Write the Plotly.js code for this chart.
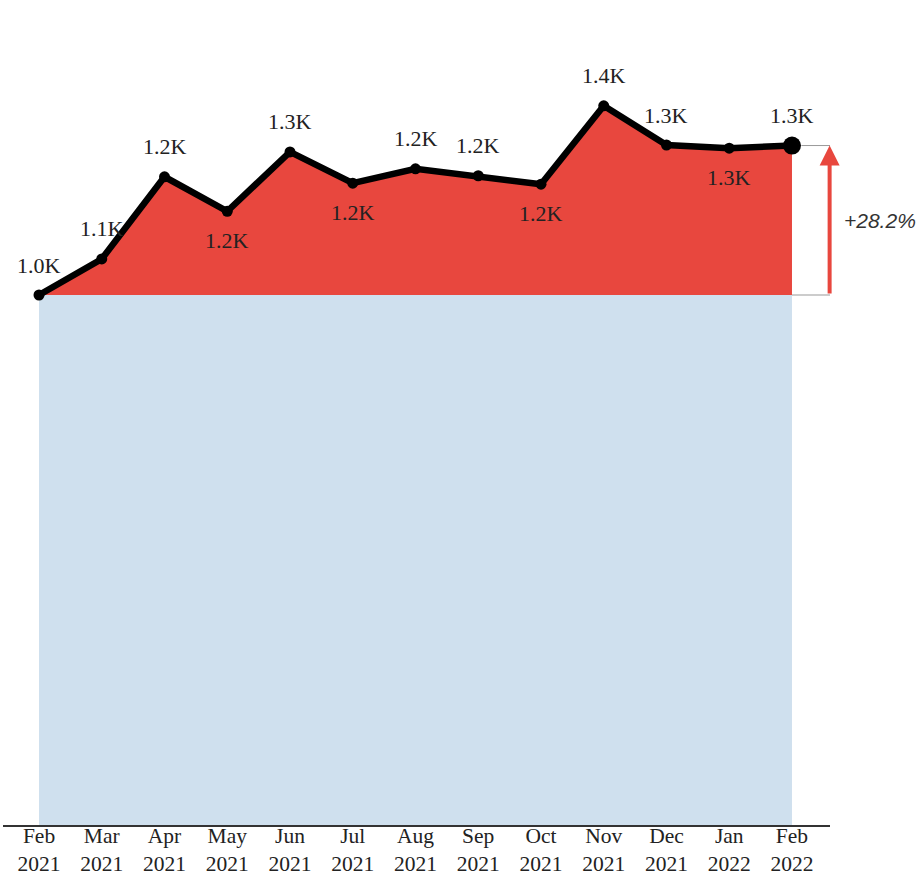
<!DOCTYPE html>
<html>
<head>
<meta charset="utf-8">
<script src="https://cdn.plot.ly/plotly-3.0.1.min.js"></script>
<style>html,body{margin:0;padding:0;background:#fff}#chart{width:921px;height:878px}</style>
</head>
<body>
<div id="chart"></div>
<script>
const months = ['Feb<br>2021','Mar<br>2021','Apr<br>2021','May<br>2021','Jun<br>2021','Jul<br>2021','Aug<br>2021','Sep<br>2021','Oct<br>2021','Nov<br>2021','Dec<br>2021','Jan<br>2022','Feb<br>2022'];
const values = [1000, 1068, 1223, 1158, 1270, 1211, 1238, 1225, 1209, 1357, 1283, 1277, 1282];
const labelSide = ['above','above','above','below','above','below','above','above','below','above','above','below','above'];

const base = values[0];
const last = values[values.length - 1];
const growth = ((last - base) / base * 100).toFixed(1);
const idx = months.map((_, i) => i);

const serif = 'Liberation Serif, Times New Roman, serif';

const traces = [
  {
    x: idx, y: months.map(() => base), type: 'scatter', mode: 'lines',
    fill: 'tozeroy', fillcolor: '#cfe0ee', line: {width: 0, color: '#cfe0ee'},
    hoverinfo: 'skip', showlegend: false
  },
  {
    x: idx, y: values, type: 'scatter', mode: 'lines+markers',
    fill: 'tonexty', fillcolor: '#e8473e',
    line: {color: '#000', width: 6.5},
    marker: {color: '#000', opacity: 1, size: values.map((_, i) => i === values.length - 1 ? 18 : 11), line: {width: 0, color: '#000'}},
    cliponaxis: false, showlegend: false
  }
];

const annotations = values.map((v, i) => ({
  x: i, y: v, xref: 'x', yref: 'y',
  text: (v / 1000).toFixed(1) + 'K', showarrow: false,
  yshift: labelSide[i] === 'above' ? 30 : -29,
  font: {family: serif, size: 22, color: '#222'}
}));

annotations.push({
  x: 12.6, y: last, ax: 12.6, ay: base, xref: 'x', yref: 'y', axref: 'x', ayref: 'y',
  text: '', showarrow: true, arrowhead: 2, arrowsize: 1, arrowwidth: 4, arrowcolor: '#e8473e',
  standoff: 0, startstandoff: 0
});
annotations.push({
  x: 12.6, y: (last + base) / 2, xref: 'x', yref: 'y', xanchor: 'left', xshift: 12,
  text: '<i>+' + growth + '%</i>', showarrow: false,
  font: {family: 'Liberation Sans, Arial, sans-serif', size: 21, color: '#333'}
});

const shapes = [
  {type: 'line', xref: 'x', yref: 'y', x0: 12.15, x1: 12.68, y0: last, y1: last, layer: 'below', line: {color: '#999', width: 1}},
  {type: 'line', xref: 'x', yref: 'y', x0: 12, x1: 12.68, y0: base, y1: base, line: {color: '#999', width: 1}}
];

const layout = {
  width: 921, height: 878,
  margin: {l: 3, r: 91, t: 30, b: 53},
  paper_bgcolor: '#fff', plot_bgcolor: '#fff',
  showlegend: false,
  xaxis: {
    range: [-0.574, 12.606], tickvals: idx, ticktext: months,
    showline: true, linecolor: '#333', linewidth: 2, ticks: '', showgrid: false, zeroline: false,
    tickfont: {family: serif, size: 21.5, color: '#222'}, fixedrange: true,
    ticklabelstandoff: -10
  },
  yaxis: {range: [0, 1500], visible: false, showgrid: false, zeroline: false, fixedrange: true},
  annotations: annotations,
  shapes: shapes
};

Plotly.newPlot('chart', traces, layout, {displayModeBar: false, staticPlot: true});
</script>
</body>
</html>
